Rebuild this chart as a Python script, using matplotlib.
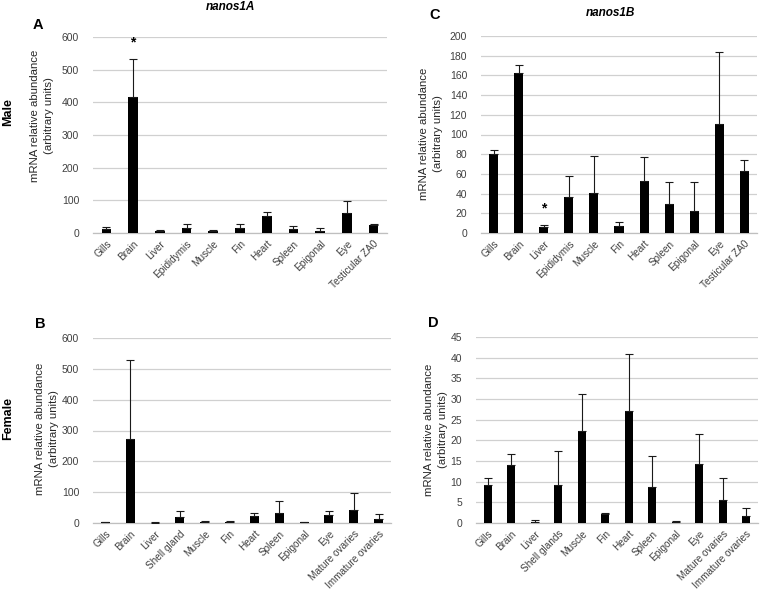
import matplotlib
matplotlib.use("Agg")
import matplotlib.pyplot as plt
import numpy as np

plt.rcParams['font.family'] = ['Liberation Sans', 'DejaVu Sans']

male_tissues = ["Gills", "Brain", "Liver", "Epididymis", "Muscle", "Fin", "Heart",
                "Spleen", "Epigonal", "Eye", "Testicular ZA0"]
female_tissues_b = ["Gills", "Brain", "Liver", "Shell gland", "Muscle", "Fin", "Heart",
                    "Spleen", "Epigonal", "Eye", "Mature ovaries", "Immature ovaries"]
female_tissues_d = ["Gills", "Brain", "Liver", "Shell glands", "Muscle", "Fin", "Heart",
                    "Spleen", "Epigonal", "Eye", "Mature ovaries", "Immature ovaries"]

# nanos1A male
a_mean = [12, 417, 6, 15, 6, 15, 51, 12, 7, 60, 23]
a_err = [5, 116, 3, 13, 3, 13, 12, 8, 7, 38, 5]
# nanos1A female
b_mean = [2, 272, 1, 18, 4, 4, 24, 32, 2, 26, 41, 12]
b_err = [1, 258, 1, 20, 1, 1, 8, 38, 1, 14, 56, 16]
# nanos1B male
c_mean = [80, 162, 6, 37, 41, 7, 53, 29, 22.5, 111, 62.5]
c_err = [4, 9, 2, 21, 37, 4, 24, 23, 29.5, 73, 11.5]
# nanos1B female
d_mean = [9.2, 14, 0.3, 9.2, 22.3, 2.2, 27.2, 8.7, 0.3, 14.2, 5.6, 1.7]
d_err = [1.8, 2.6, 0.5, 8.2, 9.0, 0.3, 13.8, 7.5, 0.3, 7.3, 5.4, 1.9]

W, H = 760, 596
fig = plt.figure(figsize=(W / 100, H / 100), dpi=100)


def px_axes(left, right, top, bottom):
    return fig.add_axes([left / W, 1 - bottom / H, (right - left) / W, (bottom - top) / H])


def panel(ax, labels, mean, err, ymax, step):
    x = np.arange(len(labels))
    ax.bar(x, mean, width=0.36, color="black", zorder=3)
    ax.errorbar(x, mean, yerr=[np.zeros(len(err)), err], fmt="none", ecolor="#1a1a1a",
                elinewidth=0.8, capsize=3, capthick=0.8, zorder=4)
    ax.set_xlim(-0.5, len(labels) - 0.5)
    ax.set_ylim(0, ymax)
    ax.set_yticks(np.arange(0, ymax + step / 2, step))
    ax.yaxis.grid(True, color="#d0d0d0", linewidth=0.9, zorder=0)
    for s in ["top", "right", "left"]:
        ax.spines[s].set_visible(False)
    ax.spines["bottom"].set_color("#bfbfbf")
    ax.spines["bottom"].set_linewidth(0.9)
    ax.tick_params(axis="y", length=0, pad=10, labelsize=7.5, labelcolor="#404040")
    ax.tick_params(axis="x", length=0, pad=4, labelsize=7.2, labelcolor="#404040")
    ax.set_xticks(x)
    ax.set_xticklabels(labels, rotation=45, ha="right", rotation_mode="anchor")


axA = px_axes(93, 387, 37, 233)
panel(axA, male_tissues, a_mean, a_err, 600, 100)
axA.text(1, 582, "*", ha="center", va="center", fontsize=10, fontweight="bold")

axC = px_axes(481, 757, 36, 233)
panel(axC, male_tissues, c_mean, c_err, 200, 20)
axC.text(2, 25, "*", ha="center", va="center", fontsize=10, fontweight="bold")

axB = px_axes(93, 391, 338, 523)
panel(axB, female_tissues_b, b_mean, b_err, 600, 100)

axD = px_axes(476, 758, 337, 523)
panel(axD, female_tissues_d, d_mean, d_err, 45, 5)


def ftext(x, y, s, **kw):
    fig.text(x / W, 1 - y / H, s, **kw)


ylab = "mRNA relative abundance\n(arbitrary units)"
ylab_kw = dict(rotation=90, ha="center", va="center", fontsize=8.2, color="#262626",
               linespacing=1.45)
ftext(42, 116, ylab, **ylab_kw)
ftext(431, 134, ylab, **ylab_kw)
ftext(47, 429, ylab, **ylab_kw)
ftext(436, 430, ylab, **ylab_kw)

ftext(8, 112, "Male", rotation=90, ha="center", va="center", fontsize=9, fontweight="bold")
ftext(8, 418, "Female", rotation=90, ha="center", va="center", fontsize=9, fontweight="bold")

for lx, ly, s in [(38, 25, "A"), (435, 15, "C"), (40, 324, "B"), (433, 323, "D")]:
    ftext(lx, ly, s, ha="center", va="center", fontsize=10.5, fontweight="bold")

ftext(230, 7, "nanos1A", ha="center", va="center", fontsize=8.5, fontweight="bold", style="italic")
ftext(610, 13, "nanos1B", ha="center", va="center", fontsize=8.5, fontweight="bold", style="italic")

fig.savefig("out.png", dpi=100, facecolor="white")
